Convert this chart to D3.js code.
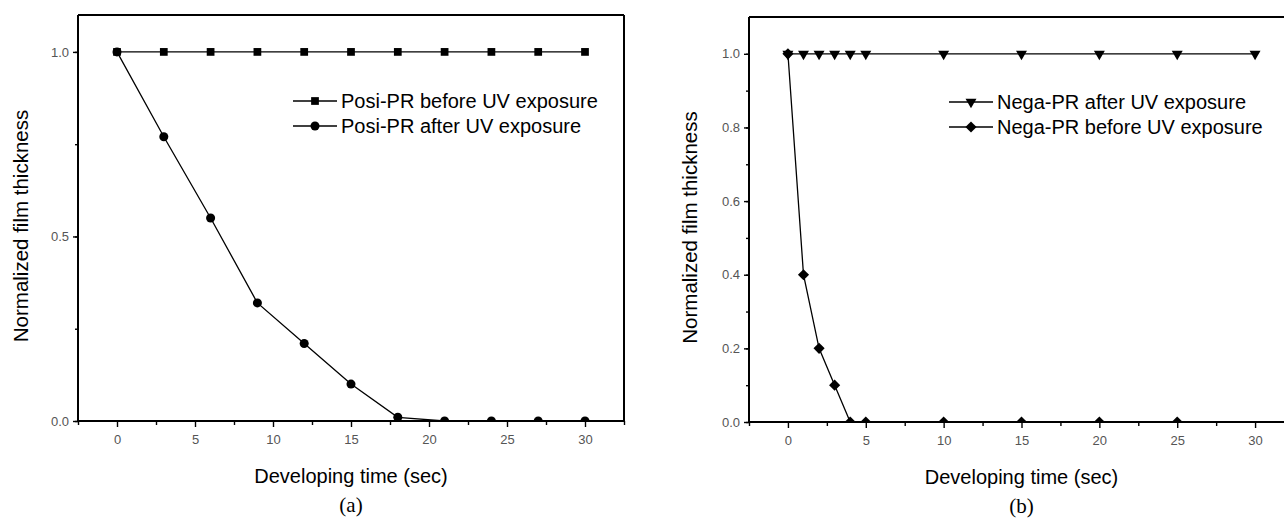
<!DOCTYPE html>
<html>
<head>
<meta charset="utf-8">
<script src="https://cdn.jsdelivr.net/npm/d3@7"></script>
<style>
  html, body { margin: 0; padding: 0; background: #fff; }
  svg { display: block; }
  text { font-family: Arial, "Liberation Sans", sans-serif; }
</style>
</head>
<body>
<svg id="chart" width="1284" height="519"></svg>
<script>
// ---- Panel (a): positive photoresist ----
const timeA = [0, 3, 6, 9, 12, 15, 18, 21, 24, 27, 30];
const posiBefore = [1, 1, 1, 1, 1, 1, 1, 1, 1, 1, 1];
const posiAfter = [1.0, 0.77, 0.55, 0.32, 0.21, 0.10, 0.01, 0, 0, 0, 0];

// ---- Panel (b): negative photoresist ----
const timeNegaAfter = [0, 1, 2, 3, 4, 5, 10, 15, 20, 25, 30];
const negaAfter = [1, 1, 1, 1, 1, 1, 1, 1, 1, 1, 1];
const timeNegaBefore = [0, 1, 2, 3, 4, 5, 10, 15, 20, 25];
const negaBefore = [1.0, 0.40, 0.20, 0.10, 0, 0, 0, 0, 0, 0];

const xTicks = [0, 5, 10, 15, 20, 25, 30];
const yTicksA = [0, 0.5, 1.0];
const yTicksB = [0, 0.2, 0.4, 0.6, 0.8, 1.0];

const svg = d3.select("#chart");

// marker shapes
const sym = {
  square: d3.symbol().type(d3.symbolSquare).size(60),
  circle: d3.symbol().type(d3.symbolCircle).size(64),
  diamond: d3.symbol().type(d3.symbolSquare).size(62),
  triangle: d3.symbol().type(d3.symbolTriangle).size(52)
};
function markerPath(kind) { return sym[kind](); }
function markerTransform(kind, x, y) {
  if (kind === "triangle") return `translate(${x},${y}) rotate(180)`;
  if (kind === "diamond") return `translate(${x},${y}) rotate(45)`;
  return `translate(${x},${y})`;
}

function drawPanel(p) {
  const g = svg.append("g").attr("transform", `translate(${p.left},${p.top})`);
  const w = p.width, h = p.height;
  const x = d3.scaleLinear().domain([-2.5, 32.5]).range([0, w]);
  const y = d3.scaleLinear().domain([0, 1.1]).range([h, 0]);

  const clipId = "clip-" + p.id;
  g.append("clipPath").attr("id", clipId)
    .append("rect").attr("x", 0).attr("y", 0).attr("width", w).attr("height", h);

  // x axis: major labelled ticks plus minor ticks halfway
  const xMinor = d3.range(-2.5, 33, 5);
  g.append("g").attr("transform", `translate(0,${h})`)
    .call(d3.axisBottom(x).tickValues(xMinor).tickSize(4).tickFormat(""))
    .call(a => a.select(".domain").remove())
    .call(a => a.selectAll("line").attr("stroke", "#000").attr("stroke-width", 1.4));
  g.append("g").attr("transform", `translate(0,${h})`)
    .call(d3.axisBottom(x).tickValues(xTicks).tickSize(6).tickPadding(8).tickFormat(d3.format("d")))
    .call(a => a.select(".domain").remove())
    .call(a => a.selectAll("line").attr("stroke", "#000").attr("stroke-width", 1.4))
    .call(a => a.selectAll("text").attr("fill", "#555").attr("font-size", 13)
      .attr("font-family", "Arial, 'Liberation Sans', sans-serif"));

  // y axis
  const yMinor = d3.range(0, 1.05, p.yMinorStep);
  g.append("g")
    .call(d3.axisLeft(y).tickValues(yMinor).tickSize(3).tickFormat(""))
    .call(a => a.select(".domain").remove())
    .call(a => a.selectAll("line").attr("stroke", "#000").attr("stroke-width", 1.4));
  g.append("g")
    .call(d3.axisLeft(y).tickValues(p.yTicks).tickSize(5).tickPadding(4).tickFormat(d3.format(".1f")))
    .call(a => a.select(".domain").remove())
    .call(a => a.selectAll("line").attr("stroke", "#000").attr("stroke-width", 1.4))
    .call(a => a.selectAll("text").attr("fill", "#555").attr("font-size", 13)
      .attr("font-family", "Arial, 'Liberation Sans', sans-serif"));

  // frame
  const frame = g.append("g").attr("fill", "none").attr("stroke", "#000").attr("stroke-width", 2);
  frame.append("line").attr("x1", 0).attr("x2", 0).attr("y1", 0).attr("y2", h);
  frame.append("line").attr("x1", 0).attr("x2", w).attr("y1", h).attr("y2", h);
  frame.append("line").attr("x1", 0).attr("x2", w).attr("y1", 0).attr("y2", 0);
  frame.append("line").attr("x1", w).attr("x2", w).attr("y1", 0).attr("y2", h);

  // series
  const plot = g.append("g").attr("clip-path", `url(#${clipId})`);
  const line = d3.line().x(d => x(d[0])).y(d => y(d[1]));
  p.series.forEach(s => {
    const pts = s.t.map((t, i) => [t, s.v[i]]);
    plot.append("path").datum(pts)
      .attr("fill", "none").attr("stroke", "#000").attr("stroke-width", 1.3)
      .attr("d", line);
    plot.selectAll(null).data(pts).join("path")
      .attr("d", markerPath(s.marker))
      .attr("transform", d => markerTransform(s.marker, x(d[0]), y(d[1])))
      .attr("fill", "#000");
  });

  // legend
  const lg = g.append("g").attr("transform", `translate(${p.legendX},${p.legendY})`);
  p.legend.forEach((s, i) => {
    const row = lg.append("g").attr("transform", `translate(0,${i * 25})`);
    row.append("line").attr("x1", 0).attr("x2", 44).attr("y1", 0).attr("y2", 0)
      .attr("stroke", "#000").attr("stroke-width", 1.3);
    row.append("path").attr("d", markerPath(s.marker))
      .attr("transform", markerTransform(s.marker, 22, 0)).attr("fill", "#000");
    row.append("text").attr("x", 48).attr("y", 0).attr("dy", "0.36em")
      .attr("font-size", 20).attr("fill", "#000").text(s.label);
  });

  // axis titles
  g.append("text")
    .attr("transform", `translate(${p.yTitleX},${h / 2 + 8}) rotate(-90)`)
    .attr("text-anchor", "middle").attr("font-size", 20.5).attr("fill", "#000")
    .text("Normalized film thickness");
  g.append("text")
    .attr("x", x(15)).attr("y", h + 62)
    .attr("text-anchor", "middle").attr("font-size", 20).attr("fill", "#000")
    .text("Developing time (sec)");
  g.append("text")
    .attr("x", x(15)).attr("y", h + 91)
    .attr("text-anchor", "middle").attr("font-size", 21).attr("fill", "#000")
    .style("font-family", "'Liberation Serif', 'Times New Roman', serif")
    .text(p.caption);
}

drawPanel({
  id: "a", left: 78, top: 15, width: 546, height: 406,
  yTicks: yTicksA, yMinorStep: 0.25,
  series: [
    { t: timeA, v: posiBefore, marker: "square" },
    { t: timeA, v: posiAfter, marker: "circle" }
  ],
  legend: [
    { marker: "square", label: "Posi-PR before UV exposure" },
    { marker: "circle", label: "Posi-PR after UV exposure" }
  ],
  legendX: 215, legendY: 86, yTitleX: -50, caption: "(a)"
});

drawPanel({
  id: "b", left: 749, top: 17, width: 545, height: 405,
  yTicks: yTicksB, yMinorStep: 0.1,
  series: [
    { t: timeNegaAfter, v: negaAfter, marker: "triangle" },
    { t: timeNegaBefore, v: negaBefore, marker: "diamond" }
  ],
  legend: [
    { marker: "triangle", label: "Nega-PR after UV exposure" },
    { marker: "diamond", label: "Nega-PR before UV exposure" }
  ],
  legendX: 200, legendY: 85, yTitleX: -52, caption: "(b)"
});
</script>
</body>
</html>
